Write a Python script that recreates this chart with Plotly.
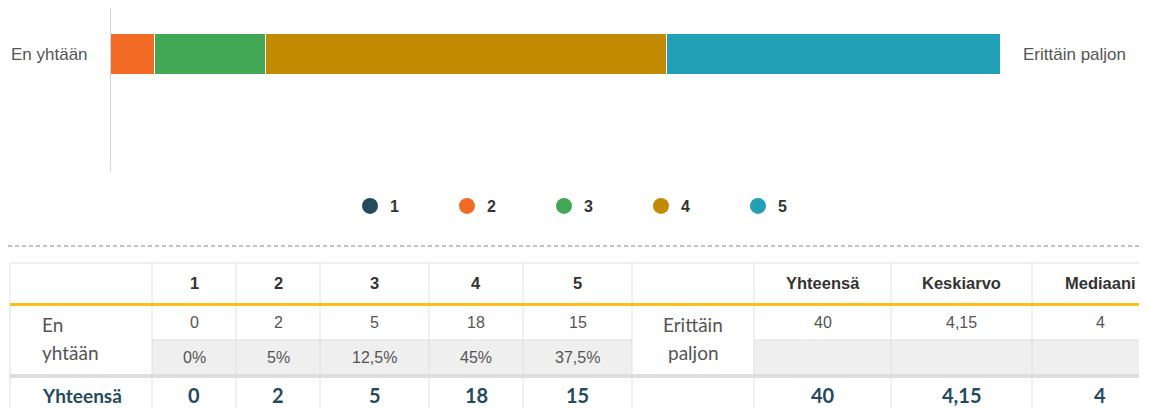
import plotly.graph_objects as go

# ---- data ----
categories = ["1", "2", "3", "4", "5"]
counts = [0, 2, 5, 18, 15]
percents = ["0%", "5%", "12,5%", "45%", "37,5%"]
colors = ["#234b5c", "#f26b24", "#44a756", "#c18a00", "#22a0b6"]
row_label = "En yhtään"
left_label = "En yhtään"
right_label = "Erittäin paljon"
stat_headers = ["Yhteensä", "Keskiarvo", "Mediaani"]
stat_values = ["40", "4,15", "4"]
total_label = "Yhteensä"

W, H = 1150, 408
OFF = 8  # page body margin
fig = go.Figure()

# stacked bar
for cat, val, col in zip(categories, counts, colors):
    fig.add_trace(go.Bar(
        x=[val], y=[0], orientation="h", name=cat, marker=dict(color=col, line=dict(color="white", width=1.5)),
        width=0.83, showlegend=False, xaxis="x", yaxis="y", hoverinfo="skip"))
# legend entries (circles)
for cat, col in zip(categories, colors):
    fig.add_trace(go.Scatter(
        x=[None], y=[None], mode="markers", name=f"<b>{cat}</b>",
        marker=dict(color=col, size=16, symbol="circle"), xaxis="x", yaxis="y"))

def px_x(p):
    return min(max((p - OFF) / W, 0), 1)

def px_y(p):
    return min(max(1 - (p - OFF) / H, 0), 1)

shapes = []
annotations = []

def line(x0, y0, x1, y1, color="#e0e0e0", width=1, dash="solid"):
    shapes.append(dict(type="line", xref="x2", yref="y2", x0=x0, y0=y0, x1=x1, y1=y1,
                       line=dict(color=color, width=width, dash=dash), layer="above"))

def rect(x0, y0, x1, y1, color):
    shapes.append(dict(type="rect", xref="x2", yref="y2", x0=x0, y0=y0, x1=x1, y1=y1,
                       fillcolor=color, line=dict(width=0), layer="below"))

def text(x, y, s, size=16, color="#555555", family="Arial, Liberation Sans", bold=False, xanchor="center"):
    if bold:
        s = f"<b>{s}</b>"
    annotations.append(dict(xref="x2", yref="y2", x=x, y=y, text=s, showarrow=False,
                            xanchor=xanchor, yanchor="middle",
                            font=dict(size=size, color=color, family=family)))

# axis labels of the bar chart
text(9, 54, left_label, size=17, xanchor="left")
text(1021, 54, right_label, size=17, xanchor="left")

# y axis line of the bar chart
line(110.5, OFF, 110.5, 172, color="#ccd6eb", width=1)

# dashed separator
line(8, 246, 1140, 246, color="#b0b0b0", width=1.5, dash="4px,3px")

# table geometry
cols = [10, 152, 236, 320, 429, 523, 632, 754, 891, 1032, 1139]
y_top, y_head, y_r1, y_r2, y_sep, y_bot = 263, 303.5, 340, 374, 378, 410
right = 1139

# fills
rect(cols[1], y_r1, cols[6], y_r2, "#efefef")
rect(cols[7], y_r1, right, y_r2, "#efefef")
rect(cols[0], y_r2, right, y_sep, "#dedede")

# grid lines
line(cols[0], y_top, right, y_top)
line(cols[1], y_r1, cols[6], y_r1)
line(cols[7], y_r1, right, y_r1)
for c in cols[:-1]:
    line(c, y_top, c, y_bot)
line(cols[0], y_head + 1, right, y_head + 1, color="#fbbf1a", width=3)

# header
for i, cat in enumerate(categories):
    text((cols[i + 1] + cols[i + 2]) / 2, 283, cat, size=16.5, color="#333333", bold=True)
for i, h in enumerate(stat_headers):
    cx = (cols[7 + i] + cols[8 + i]) / 2
    if i == 2:
        cx = 1100
    text(cx, 283, h, size=16.5, color="#333333", bold=True)

# row 1 & 2
lw = row_label.split(" ")
text(40, 324, lw[0], size=19, color="#555555", family="Lato", xanchor="left")
text(40, 352, lw[1], size=19, color="#555555", family="Lato", xanchor="left")
rw = right_label.split(" ")
text((cols[6] + cols[7]) / 2, 324, rw[0], size=19, color="#555555", family="Lato")
text((cols[6] + cols[7]) / 2, 352, rw[1], size=19, color="#555555", family="Lato")
for i, (v, p) in enumerate(zip(counts, percents)):
    cx = (cols[i + 1] + cols[i + 2]) / 2
    text(cx, 322, str(v), size=16)
    text(cx, 357, p, size=16)
for i, v in enumerate(stat_values):
    cx = (cols[7 + i] + cols[8 + i]) / 2
    if i == 2:
        cx = 1100
    text(cx, 322, v, size=16)

# total row
navy = "#254a5d"
text(40, 395, total_label, size=19, color=navy, family="Lato", bold=True, xanchor="left")
for i, v in enumerate(counts):
    cx = (cols[i + 1] + cols[i + 2]) / 2
    text(cx, 395, str(v), size=20, color=navy, family="Lato", bold=True)
for i, v in enumerate(stat_values):
    cx = (cols[7 + i] + cols[8 + i]) / 2
    if i == 2:
        cx = 1100
    text(cx, 395, v, size=20, color=navy, family="Lato", bold=True)

fig.update_layout(
    width=W, height=H, margin=dict(l=0, r=0, t=0, b=0, pad=0), autosize=False,
    paper_bgcolor="white", plot_bgcolor="rgba(0,0,0,0)",
    barmode="stack", bargap=0,
    xaxis=dict(domain=[px_x(110), px_x(1001)], range=[0, 40], visible=False, fixedrange=True, anchor="y"),
    yaxis=dict(domain=[px_y(172), px_y(8)], range=[-2.374, 0.939], showticklabels=False, showgrid=False,
               zeroline=False, showline=False, fixedrange=True, anchor="x"),
    xaxis2=dict(domain=[0, 1], range=[OFF, W + OFF], visible=False, anchor="y2", fixedrange=True),
    yaxis2=dict(domain=[0, 1], range=[H + OFF, OFF], visible=False, anchor="x2", fixedrange=True),
    shapes=shapes,
    annotations=annotations,
    showlegend=True,
    legend=dict(orientation="h", x=px_x(350), y=px_y(206), xanchor="left", yanchor="middle",
                traceorder="normal",
                entrywidth=52, entrywidthmode="pixels", font=dict(size=16, color="#333333",
                family="Arial, Liberation Sans"), bgcolor="rgba(0,0,0,0)"),
)
# invisible trace to activate x2/y2
fig.add_trace(go.Scatter(x=[OFF], y=[OFF], xaxis="x2", yaxis="y2", mode="markers",
                         marker=dict(opacity=0), showlegend=False, hoverinfo="skip"))

fig.write_html("out.html")
